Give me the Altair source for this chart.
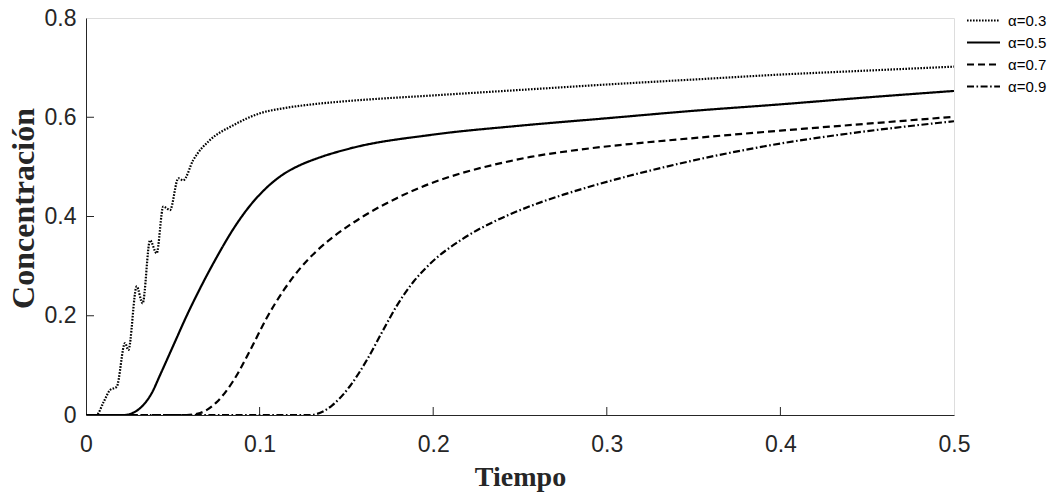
import altair as alt
import pandas as pd

series_names = ["α=0.3", "α=0.5", "α=0.7", "α=0.9"]

t_03 = [0.0, 0.006, 0.0100, 0.0138, 0.0177, 0.0225, 0.0244, 0.0292, 0.0326, 0.0369, 0.0407,
        0.0445, 0.0484, 0.0532, 0.0560, 0.0618, 0.0714, 0.0849, 0.1002, 0.1136, 0.133, 0.152,
        0.200, 0.250, 0.300, 0.350, 0.400, 0.450, 0.500]
y_03 = [0.0, 0.0, 0.025, 0.050, 0.057, 0.145, 0.131, 0.259, 0.225, 0.352, 0.326,
        0.420, 0.413, 0.477, 0.473, 0.514, 0.554, 0.584, 0.608, 0.618, 0.627, 0.633,
        0.644, 0.655, 0.666, 0.676, 0.686, 0.694, 0.702]

t_05 = [0.0, 0.0225, 0.028, 0.033, 0.038, 0.0426, 0.0503, 0.058, 0.0657, 0.0753, 0.0849,
        0.0945, 0.104, 0.1136, 0.123, 0.133, 0.152, 0.200, 0.250, 0.300, 0.350, 0.400,
        0.450, 0.500]
y_05 = [0.0, 0.0, 0.006, 0.020, 0.045, 0.080, 0.140, 0.200, 0.255, 0.318, 0.375,
        0.422, 0.458, 0.485, 0.503, 0.517, 0.537, 0.565, 0.583, 0.598, 0.613, 0.626,
        0.640, 0.653]

t_07 = [0.0, 0.058, 0.0657, 0.0750, 0.0847, 0.0945, 0.104, 0.114, 0.123, 0.133, 0.142,
        0.152, 0.160, 0.179, 0.198, 0.217, 0.237, 0.256, 0.285, 0.313, 0.350, 0.400,
        0.450, 0.500]
y_07 = [0.0, 0.0, 0.004, 0.025, 0.068, 0.130, 0.195, 0.252, 0.294, 0.331, 0.358,
        0.383, 0.401, 0.437, 0.466, 0.488, 0.506, 0.520, 0.535, 0.546, 0.558, 0.573,
        0.587, 0.601]

t_09 = [0.0, 0.129, 0.137, 0.142, 0.152, 0.162, 0.171, 0.179, 0.1885, 0.198, 0.217,
        0.237, 0.256, 0.275, 0.294, 0.313, 0.350, 0.400, 0.450, 0.500]
y_09 = [0.0, 0.0, 0.008, 0.020, 0.058, 0.112, 0.170, 0.220, 0.268, 0.304, 0.355,
        0.393, 0.421, 0.444, 0.464, 0.482, 0.513, 0.547, 0.572, 0.592]

x_ticks = [0.0, 0.1, 0.2, 0.3, 0.4, 0.5]
y_ticks = [0.0, 0.2, 0.4, 0.6, 0.8]
x_inner_ticks = [0.1, 0.2, 0.3, 0.4]
y_inner_ticks = [0.2, 0.4, 0.6]

rows = []
for name, ts, ys in zip(series_names, [t_03, t_05, t_07, t_09], [y_03, y_05, y_07, y_09]):
    for i, (a, b) in enumerate(zip(ts, ys)):
        rows.append({"t": a, "c": b, "serie": name, "i": i})
df = pd.DataFrame(rows)

W, H = 868, 397
xscale = alt.Scale(domain=[0, 0.5], nice=False, zero=False)
yscale = alt.Scale(domain=[0, 0.8], nice=False, zero=False)

GRAY = "#262626"

xaxis = alt.Axis(values=x_ticks, format="~g", title="Tiempo", tickSize=0,
                 labelFont="Liberation Sans", labelFontSize=23, labelColor=GRAY,
                 labelPadding=18, labelFlush=False,
                 titleFont="Liberation Serif", titleFontSize=28, titleFontWeight="bold",
                 titleColor=GRAY, titleX=434, titleY=70, titleBaseline="alphabetic",
                 domainColor=GRAY, grid=False)
yaxis = alt.Axis(values=y_ticks, format="~g", title="Concentración", tickSize=0,
                 labelFont="Liberation Sans", labelFontSize=23, labelColor=GRAY,
                 labelPadding=10, labelFlush=False,
                 titleFont="Liberation Serif", titleFontSize=32, titleFontWeight="bold",
                 titleColor=GRAY, titleX=-63, titleY=190, titleBaseline="middle",
                 titleAngle=-90, titleAlign="center",
                 domainColor=GRAY, grid=False)

tick_x_df = pd.DataFrame({"tx": x_inner_ticks})
tick_y_df = pd.DataFrame({"cy": y_inner_ticks})

xt = alt.Chart(tick_x_df).mark_rule(color=GRAY, strokeWidth=1).encode(
    x=alt.X("tx:Q", scale=xscale, axis=xaxis),
    y=alt.value(H), y2=alt.value(H - 8),
)
yt = alt.Chart(tick_y_df).mark_rule(color=GRAY, strokeWidth=1).encode(
    y=alt.Y("cy:Q", scale=yscale, axis=yaxis),
    x=alt.value(0), x2=alt.value(8),
)

lines = alt.Chart(df).mark_line(strokeWidth=2.2, color="black", clip=True,
                                interpolate="monotone").encode(
    x=alt.X("t:Q", scale=xscale, axis=xaxis),
    y=alt.Y("c:Q", scale=yscale, axis=yaxis),
    strokeDash=alt.StrokeDash(
        "serie:N",
        scale=alt.Scale(domain=series_names,
                        range=[[1.6, 1.4], [1, 0], [7, 4], [7, 2.5, 1.6, 2.5]]),
        legend=alt.Legend(title=None, orient="none", legendX=885, legendY=-10,
                          symbolType="M-1.5,0H1.5", symbolSize=484, symbolStrokeWidth=2.2,
                          symbolStrokeColor="black",
                          labelFont="Liberation Sans", labelFontSize=15, labelColor="black",
                          labelOffset=12, rowPadding=1)),
    order="i:Q",
)

chart = alt.layer(xt, yt, lines).properties(
    width=W, height=H,
    autosize=alt.AutoSizeParams(type="none"),
    padding={"left": 86, "top": 18, "right": 100, "bottom": 78},
).configure_view(stroke=GRAY, strokeWidth=1).configure(background="white")

chart.save("out.html", embed_options={"renderer": "svg", "actions": False})
